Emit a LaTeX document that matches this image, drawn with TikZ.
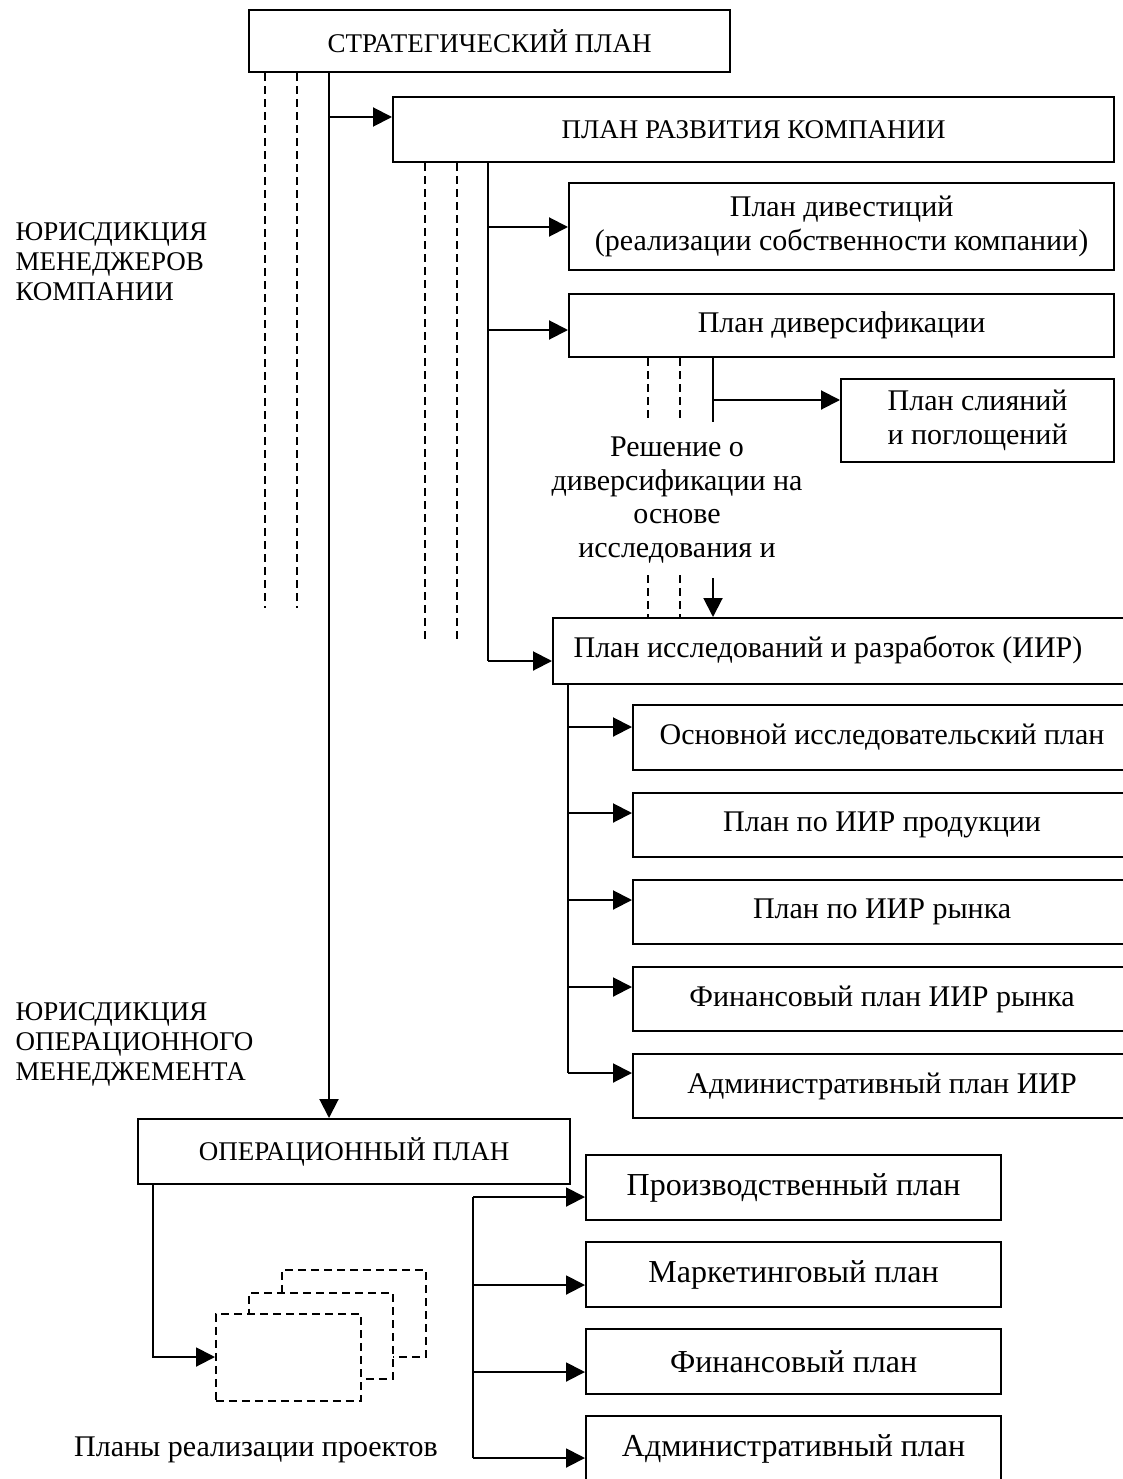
\documentclass[tikz,border=0pt]{standalone}
\usepackage{fontspec}
\setmainfont{Liberation Serif}
\usetikzlibrary{arrows.meta}
\begin{document}
\begin{tikzpicture}[x=1pt,y=-1pt,
  box/.style={draw, line width=2.2pt, rectangle, inner sep=0pt, anchor=north west, fill=white},
  conn/.style={line width=2pt},
  arr/.style={conn, -{Triangle[length=19pt,width=19pt]}},
  dsh/.style={line width=1.8pt, dash pattern=on 8pt off 5pt},
  dbox/.style={draw, line width=1.8pt, dash pattern=on 8pt off 5pt, fill=white, rectangle, inner sep=0pt, anchor=north west},
  capsf/.style={font=\fontsize{27}{30}\selectfont},
  midf/.style={font=\fontsize{30}{34}\selectfont},
  bigf/.style={font=\fontsize{32}{36}\selectfont},
]
\useasboundingbox (0,0) rectangle (1123,1479);

% boxes
\node[box, capsf, minimum width=481pt, minimum height=62pt] (strat) at (248,9) {СТРАТЕГИЧЕСКИЙ ПЛАН};
\node[box, capsf, minimum width=721pt, minimum height=65pt] (razv) at (392,96) {ПЛАН РАЗВИТИЯ КОМПАНИИ};
\node[box, midf, align=center, minimum width=545pt, minimum height=87pt] (divest) at (568,182) {План дивестиций\\(реализации собственности компании)};
\node[box, midf, minimum width=545pt, minimum height=63pt] (divers) at (568,293) {План диверсификации};
\node[box, midf, align=center, minimum width=273pt, minimum height=83pt] (sliyan) at (840,378) {План слияний\\и поглощений};
\node[box, minimum width=600pt, minimum height=66pt] (iir) at (552,617) {};
\node[midf] (iirtext) at (828,650) {План исследований и разработок (ИИР)};
\node[box, midf, minimum width=498pt, minimum height=65pt] (osn) at (632,704) {Основной исследовательский план};
\node[box, midf, minimum width=498pt, minimum height=64pt] (prod) at (632,792) {План по ИИР продукции};
\node[box, midf, minimum width=498pt, minimum height=64pt] (ryn) at (632,879) {План по ИИР рынка};
\node[box, midf, minimum width=498pt, minimum height=64pt] (fin) at (632,966) {Финансовый план ИИР рынка};
\node[box, midf, minimum width=498pt, minimum height=64pt] (adm) at (632,1053) {Административный план ИИР};
\node[box, capsf, minimum width=432pt, minimum height=65pt] (op) at (137,1118) {ОПЕРАЦИОННЫЙ ПЛАН};
\node[box, bigf, minimum width=415pt, minimum height=65pt] (pr) at (585,1154) {Производственный план};
\node[box, bigf, minimum width=415pt, minimum height=65pt] (mk) at (585,1241) {Маркетинговый план};
\node[box, bigf, minimum width=415pt, minimum height=65pt] (fn) at (585,1328) {Финансовый план};
\node[box, bigf, minimum width=415pt, minimum height=66pt] (ad) at (585,1415) {Административный план};

% stacked project plans
\node[dbox, minimum width=144pt, minimum height=87pt] (st3) at (281,1269) {};
\node[dbox, minimum width=144pt, minimum height=86pt] (st2) at (248,1292) {};
\node[dbox, minimum width=145pt, minimum height=87pt] (st1) at (215,1313) {};
\node[midf] (plans) at (256,1450) {Планы реализации проектов};

% labels
\node[capsf, align=left, anchor=west] (jur1) at (12,262) {ЮРИСДИКЦИЯ\\МЕНЕДЖЕРОВ\\КОМПАНИИ};
\node[capsf, align=left, anchor=west] (jur2) at (12,1044) {ЮРИСДИКЦИЯ\\ОПЕРАЦИОННОГО\\МЕНЕДЖЕМЕНТА};
\node[midf, align=center, font=\fontsize{30}{33.5}\selectfont] (resh) at (677,500) {Решение о\\диверсификации на\\основе\\исследования и};

% level 1
\coordinate (d1) at (265,608);
\coordinate (d2) at (297,608);
\coordinate (m1) at (329,117);
\draw[dsh] (strat.south -| d1) -- (d1);
\draw[dsh] (strat.south -| d2) -- (d2);
\draw[arr] (strat.south -| m1) -- (op.north -| m1);
\draw[arr] (m1) -- (razv.west |- m1);

% level 2
\coordinate (d3) at (425,640);
\coordinate (d4) at (457,640);
\coordinate (n1) at (488,227);
\coordinate (n2) at (488,330);
\coordinate (n3) at (488,661);
\draw[dsh] (razv.south -| d3) -- (d3);
\draw[dsh] (razv.south -| d4) -- (d4);
\draw[conn] (razv.south -| n3) -- (n3);
\draw[arr] (n1) -- (divest.west |- n1);
\draw[arr] (n2) -- (divers.west |- n2);
\draw[arr] (n3) -- (iir.west |- n3);

% level 3
\coordinate (d5) at (648,420);
\coordinate (d6) at (680,420);
\coordinate (s1) at (713,422);
\coordinate (s2) at (713,400);
\draw[dsh] (divers.south -| d5) -- (d5);
\draw[dsh] (divers.south -| d6) -- (d6);
\draw[conn] (divers.south -| s1) -- (s1);
\draw[arr] (s2) -- (sliyan.west |- s2);
\coordinate (d7) at (648,575);
\coordinate (d8) at (680,575);
\coordinate (s3) at (713,578);
\draw[dsh] (d7) -- (iir.north -| d7);
\draw[dsh] (d8) -- (iir.north -| d8);
\draw[arr] (s3) -- (iir.north -| s3);

% IIR sub-plans
\coordinate (i1) at (568,727);
\coordinate (i2) at (568,813);
\coordinate (i3) at (568,900);
\coordinate (i4) at (568,987);
\coordinate (i5) at (568,1073);
\draw[conn] (iir.south -| i5) -- (i5);
\draw[arr] (i1) -- (osn.west |- i1);
\draw[arr] (i2) -- (prod.west |- i2);
\draw[arr] (i3) -- (ryn.west |- i3);
\draw[arr] (i4) -- (fin.west |- i4);
\draw[arr] (i5) -- (adm.west |- i5);

% operational
\coordinate (o1) at (153,1357);
\draw[arr] (op.south -| o1) |- (st1.west |- o1);
\coordinate (b1) at (473,1197);
\coordinate (b2) at (473,1285);
\coordinate (b3) at (473,1372);
\coordinate (b4) at (473,1458);
\draw[conn] (b1) -- (b4);
\draw[arr] (b1) -- (pr.west |- b1);
\draw[arr] (b2) -- (mk.west |- b2);
\draw[arr] (b3) -- (fn.west |- b3);
\draw[arr] (b4) -- (ad.west |- b4);
\end{tikzpicture}
\end{document}
